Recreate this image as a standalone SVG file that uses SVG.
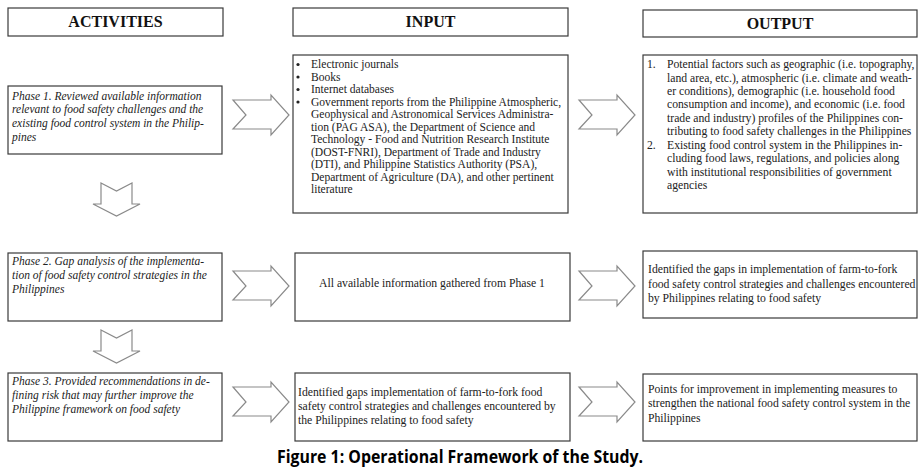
<svg xmlns="http://www.w3.org/2000/svg" width="924" height="475" viewBox="0 0 924 475">
<defs>
<style>
.box{fill:#fff;stroke:#3a3a3a;stroke-width:1.2}
.hd{font-family:"Liberation Serif",serif;font-weight:bold;font-size:16px;fill:#111;text-anchor:middle}
.t{font-family:"Liberation Serif",serif;font-size:11.7px;fill:#222}
.s{font-size:11.55px}
.it{font-family:"Liberation Serif",serif;font-style:italic;font-size:11.5px;fill:#222}
.arr{fill:#fff;stroke:#8a8a8a;stroke-width:1.2;stroke-linejoin:miter}
.cap{font-family:"Open Sans","Liberation Sans",sans-serif;font-weight:bold;font-size:17px;fill:#000}
</style>
<polygon id="ra" points="0,-15 38,-15 38,-20 56,0 38,20 38,14 0,14 13,0"/>
<polygon id="da" points="101,183 116.5,191 132,183 132,204 140,204 116.5,216 93,204 101,204"/>
</defs>
<rect width="924" height="475" fill="#fff"/>

<g id="hdr-activities"><rect class="box" x="8" y="8" width="215" height="28"/><text class="hd" x="115.5" y="27">ACTIVITIES</text></g>
<g id="hdr-input"><rect class="box" x="293" y="8" width="275" height="28"/><text class="hd" x="430.5" y="27">INPUT</text></g>
<g id="hdr-output"><rect class="box" x="643" y="10" width="274" height="27"/><text class="hd" x="780" y="29">OUTPUT</text></g>

<g id="phase1"><rect class="box" x="8" y="86" width="214" height="68"/>
<text class="it"><tspan x="12" y="100">Phase 1. Reviewed available information</tspan><tspan x="12" y="113">relevant to food safety challenges and the</tspan><tspan x="12" y="127">existing food control system in the Philip-</tspan><tspan x="12" y="141">pines</tspan></text></g>

<g id="input1"><rect class="box" x="293" y="55" width="275" height="158"/>
<g><circle cx="298" cy="64.5" r="1.6" fill="#222"/><circle cx="298" cy="77" r="1.6" fill="#222"/><circle cx="298" cy="89.5" r="1.6" fill="#222"/><circle cx="298" cy="102" r="1.6" fill="#222"/></g>
<text class="t s"><tspan x="311" y="68">Electronic journals</tspan><tspan x="311" y="81">Books</tspan><tspan x="311" y="93">Internet databases</tspan><tspan x="311" y="106">Government reports from the Philippine Atmospheric,</tspan><tspan x="311" y="118">Geophysical and Astronomical Services Administra-</tspan><tspan x="311" y="131">tion (PAG ASA), the Department of Science and</tspan><tspan x="311" y="143">Technology - Food and Nutrition Research Institute</tspan><tspan x="311" y="156">(DOST-FNRI), Department of Trade and Industry</tspan><tspan x="311" y="168">(DTI), and Philippine Statistics Authority (PSA),</tspan><tspan x="311" y="181">Department of Agriculture (DA),  and other pertinent</tspan><tspan x="311" y="193">literature</tspan></text></g>

<g id="output1"><rect class="box" x="643" y="55" width="274" height="158"/>
<text class="t"><tspan x="647" y="68">1.</tspan><tspan x="647" y="149">2.</tspan></text>
<text class="t"><tspan x="667" y="68">Potential factors such as geographic (i.e. topography,</tspan><tspan x="667" y="82">land area, etc.), atmospheric (i.e. climate and weath-</tspan><tspan x="667" y="95">er conditions), demographic (i.e. household food</tspan><tspan x="667" y="108">consumption and income), and economic (i.e. food</tspan><tspan x="667" y="122">trade and industry) profiles of the Philippines con-</tspan><tspan x="667" y="135">tributing to food safety challenges in the Philippines</tspan><tspan x="667" y="149">Existing food control system in the Philippines in-</tspan><tspan x="667" y="162">cluding food laws, regulations, and policies along</tspan><tspan x="667" y="176">with institutional responsibilities of government</tspan><tspan x="667" y="189">agencies</tspan></text></g>

<g id="phase2"><rect class="box" x="8" y="253" width="214" height="68"/>
<text class="it"><tspan x="12" y="265">Phase 2. Gap analysis of the implementa-</tspan><tspan x="12" y="279">tion of food safety control strategies in the</tspan><tspan x="12" y="293">Philippines</tspan></text></g>

<g id="input2"><rect class="box" x="295" y="253" width="275" height="68"/>
<text class="t" x="432" y="287" text-anchor="middle">All available information gathered from Phase 1</text></g>

<g id="output2"><rect class="box" x="643" y="251" width="274" height="67"/>
<text class="t"><tspan x="648" y="273">Identified the gaps in implementation of farm-to-fork</tspan><tspan x="648" y="288">food safety control strategies and challenges encountered</tspan><tspan x="648" y="302">by Philippines  relating to food safety</tspan></text></g>

<g id="phase3"><rect class="box" x="8" y="373" width="214" height="68"/>
<text class="it"><tspan x="12" y="385">Phase 3. Provided recommendations in de-</tspan><tspan x="12" y="399">fining risk that may further improve the</tspan><tspan x="12" y="413">Philippine framework on food safety</tspan></text></g>

<g id="input3"><rect class="box" x="295" y="373" width="275" height="68"/>
<text class="t"><tspan x="298" y="396">Identified gaps implementation of farm-to-fork food</tspan><tspan x="298" y="410">safety control strategies and challenges encountered by</tspan><tspan x="298" y="424">the Philippines relating to food safety</tspan></text></g>

<g id="output3"><rect class="box" x="643" y="374" width="274" height="67"/>
<text class="t"><tspan x="648" y="393">Points for improvement in implementing measures to</tspan><tspan x="648" y="407">strengthen the national food safety control system in the</tspan><tspan x="648" y="422">Philippines</tspan></text></g>

<g id="connectors">
<use href="#ra" class="arr" x="233" y="115"/>
<use href="#ra" class="arr" x="579" y="115"/>
<use href="#ra" class="arr" x="233" y="286"/>
<use href="#ra" class="arr" x="579" y="286"/>
<use href="#ra" class="arr" x="233" y="402"/>
<use href="#ra" class="arr" x="579" y="402"/>
<use href="#da" class="arr"/>
<use href="#da" class="arr" y="147"/>
</g>

<text class="cap" x="277" y="463" textLength="366" lengthAdjust="spacingAndGlyphs">Figure 1: Operational Framework of the Study.</text>
</svg>
